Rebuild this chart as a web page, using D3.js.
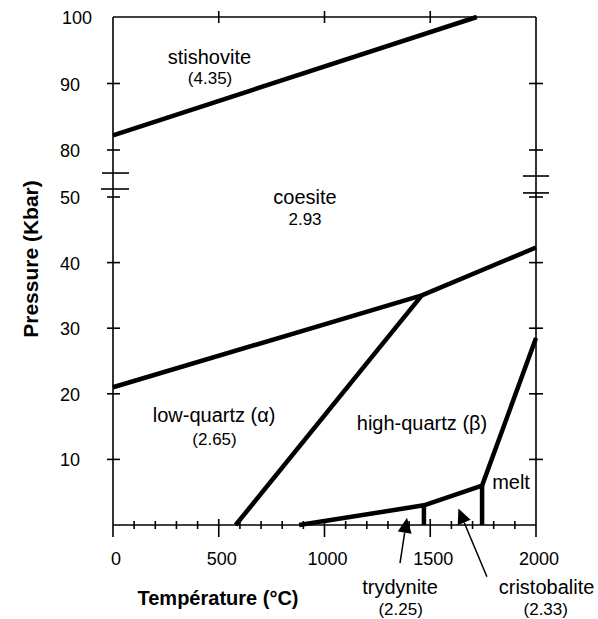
<!DOCTYPE html>
<html><head><meta charset="utf-8">
<script src="https://cdn.jsdelivr.net/npm/d3@7"></script>
<style>
html,body{margin:0;padding:0;background:#fff;}
text{font-family:"Liberation Sans",Arial,sans-serif;fill:#000;}
</style></head>
<body>
<svg id="c" width="598" height="619"></svg>
<script>
// ---- data ----
const tempMajorTicks = [0, 500, 1000, 1500, 2000];
const tempMinorTicks = d3.range(0, 2001, 100);
const tempTopTicks = [500, 1000, 1500];
const pressureTicks = [10, 20, 30, 40, 50, 80, 90, 100];
const pressureBreaksLeft = [65.3, 55.1];
const pressureBreaksRight = [63.4, 52.6];

// phase boundaries [temperature °C, pressure kbar]
const stishoviteCoesite = [[0, 82.2], [1720, 100]];
const coesiteQuartz = [[0, 21.0], [1460, 35], [2000, 42.3]];
const alphaBetaQuartz = [[580, 0], [1460, 35]];
const highTBoundary = [[880, 0], [1470, 3], [1745, 6], [2000, 28.5]];
const tridymiteCristobalite = [[1470, 0], [1470, 3]];
const cristobaliteMelt = [[1745, 0], [1745, 6]];

// phase labels [name, T, P, size]
const phaseLabels = [
  ["stishovite", 456, 93.0, 20],
  ["(4.35)", 459, 90.0, 17],
  ["coesite", 908, 49.0, 20],
  ["2.93", 908, 45.7, 17],
  ["low-quartz (\u03B1)", 478, 15.7, 20],
  ["(2.65)", 480, 12.2, 17],
  ["high-quartz (\u03B2)", 1461, 14.5, 20],
  ["melt", 1882, 5.5, 20],
  ["trydynite", 1357, -10.5, 20],
  ["(2.25)", 1360, -13.7, 17],
  ["cristobalite", 2050, -10.5, 20],
  ["(2.33)", 2046, -13.7, 17]
];
// arrows [tailT, tailP, tipT, tipP]
const arrows = [
  [1357, -5.8, 1390, 1.1],
  [1768, -7.9, 1633, 2.5]
];

// ---- scales ----
const x = d3.scaleLinear().domain([0, 2000]).range([113, 536]);
const y = d3.scaleLinear().domain([0, 50, 80, 100]).range([525, 197, 150, 17]);

const svg = d3.select("#c");
const ax = svg.append("g").attr("stroke", "#000").attr("stroke-width", 1.6).attr("fill", "none");

// frame
ax.append("line").attr("x1", x(0)).attr("x2", x(0)).attr("y1", y(100)).attr("y2", y(0) + 12);
ax.append("line").attr("x1", x(2000)).attr("x2", x(2000)).attr("y1", y(100)).attr("y2", y(0) + 12);
ax.append("line").attr("x1", x(0)).attr("x2", x(2000)).attr("y1", y(100)).attr("y2", y(100));
ax.append("line").attr("x1", x(0)).attr("x2", x(2000)).attr("y1", y(0)).attr("y2", y(0));

// bottom ticks
ax.selectAll(".mn").data(tempMinorTicks.filter(d => d % 500 !== 0)).join("line")
  .attr("x1", d => x(d)).attr("x2", d => x(d)).attr("y1", y(0) - 4).attr("y2", y(0) + 4);
ax.selectAll(".mj").data(tempMajorTicks.slice(1, 4)).join("line")
  .attr("x1", d => x(d)).attr("x2", d => x(d)).attr("y1", y(0) - 6).attr("y2", y(0) + 12);
// top ticks
ax.selectAll(".tp").data(tempTopTicks).join("line")
  .attr("x1", d => x(d)).attr("x2", d => x(d)).attr("y1", y(100) - 6).attr("y2", y(100) + 6);
// left / right ticks
const yt = pressureTicks.filter(d => d !== 100);
ax.selectAll(".lt").data(yt).join("line")
  .attr("x1", x(0) - 6).attr("x2", x(0) + 7).attr("y1", d => y(d)).attr("y2", d => y(d));
ax.selectAll(".rt").data(yt).join("line")
  .attr("x1", x(2000) - 7).attr("x2", x(2000) + 7).attr("y1", d => y(d)).attr("y2", d => y(d));
// break marks
ax.selectAll(".bl").data(pressureBreaksLeft).join("line")
  .attr("x1", (d, i) => x(0) - 11 + i * -1).attr("x2", x(0) + 16).attr("y1", d => y(d)).attr("y2", d => y(d));
ax.selectAll(".br").data(pressureBreaksRight).join("line")
  .attr("x1", x(2000) - 13).attr("x2", x(2000) + 13).attr("y1", d => y(d)).attr("y2", d => y(d));

// tick labels
svg.selectAll(".xl").data(tempMajorTicks).join("text")
  .attr("x", d => x(d) + 3).attr("y", y(0) + 40).attr("text-anchor", "middle")
  .attr("font-size", 18).text(d => d);
svg.selectAll(".yl").data(pressureTicks).join("text")
  .attr("x", d => d === 100 ? 92 : 80).attr("y", d => y(d) + 7).attr("text-anchor", "end")
  .attr("font-size", 18).text(d => d);

// axis titles
svg.append("text").attr("x", 218).attr("y", 605).attr("text-anchor", "middle")
  .attr("font-size", 20).attr("font-weight", "bold").text("Température (°C)");
svg.append("text").attr("transform", "translate(38,259) rotate(-90)").attr("text-anchor", "middle")
  .attr("font-size", 21).attr("font-weight", "bold").text("Pressure (Kbar)");

// boundaries
const line = d3.line().x(d => x(d[0])).y(d => y(d[1]));
const bg = svg.append("g").attr("fill", "none").attr("stroke", "#000").attr("stroke-width", 4.5)
  .attr("stroke-linejoin", "round");
[stishoviteCoesite, coesiteQuartz, alphaBetaQuartz, highTBoundary, tridymiteCristobalite, cristobaliteMelt]
  .forEach(b => bg.append("path").attr("d", line(b)));

// labels
svg.selectAll(".pl").data(phaseLabels).join("text")
  .attr("x", d => x(d[1])).attr("y", d => y(d[2])).attr("text-anchor", "middle")
  .attr("font-size", d => d[3]).text(d => d[0]);

// arrows
arrows.forEach(a => {
  const x1 = x(a[0]), y1 = y(a[1]), x2 = x(a[2]), y2 = y(a[3]);
  const ang = Math.atan2(y2 - y1, x2 - x1);
  const L = 15, Wd = 7;
  const bx = x2 - L * Math.cos(ang), by = y2 - L * Math.sin(ang);
  svg.append("line").attr("x1", x1).attr("y1", y1).attr("x2", bx).attr("y2", by)
    .attr("stroke", "#000").attr("stroke-width", 1.5);
  const px = -Math.sin(ang) * Wd, py = Math.cos(ang) * Wd;
  svg.append("path").attr("d", `M${x2},${y2}L${bx + px},${by + py}L${bx - px},${by - py}Z`).attr("fill", "#000");
});
</script>
</body></html>
